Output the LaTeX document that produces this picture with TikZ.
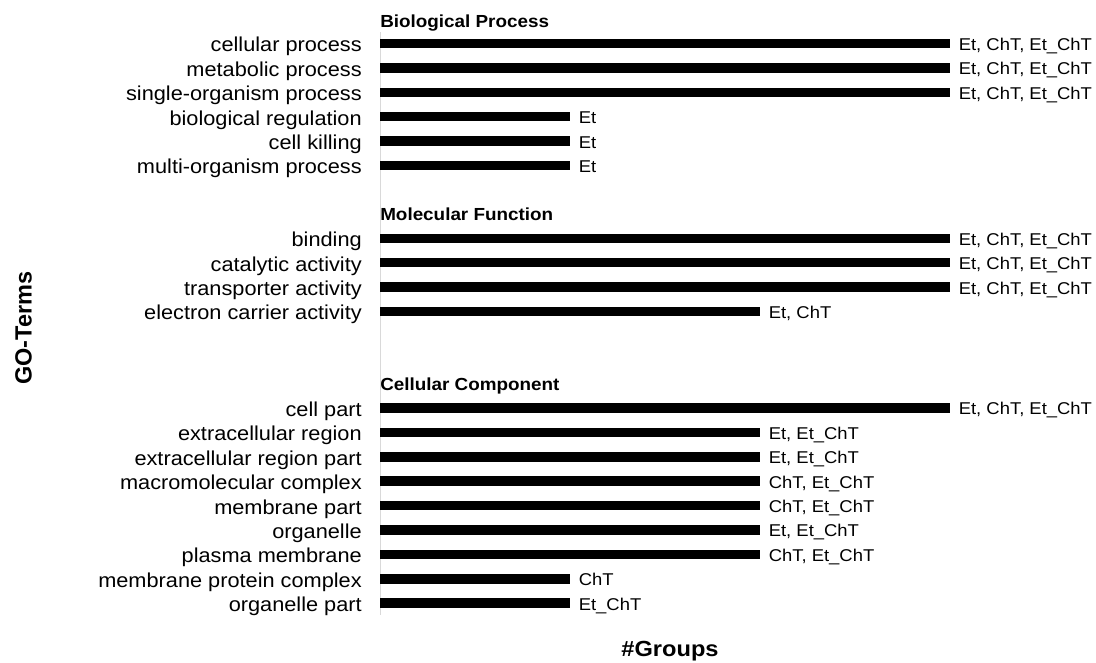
\documentclass[tikz,border=0pt]{standalone}
\usepackage{fontspec}
\setmainfont{Liberation Sans}
\newfontfamily\termfont{Liberation Sans}[FakeStretch=1.08]
\usetikzlibrary{positioning}
\definecolor{axisgray}{HTML}{D9D9D9}
\tikzset{
  bar/.style={
      rectangle, fill=black, inner sep=0pt,
      minimum height=7.1pt, anchor=west,
  },
  term/.style={
    font=\termfont\fontsize{15.1}{17}\selectfont, inner sep=0pt, anchor=base east,
  },
  hits/.style={
    font=\termfont\fontsize{12.8}{14}\selectfont, inner sep=0pt, anchor=base west,
  },
  head/.style={
    font=\termfont\bfseries\fontsize{13.1}{15}\selectfont, inner sep=0pt, anchor=base west,
  }
}

\begin{document}
\begin{tikzpicture}[x=0.75pt,y=-0.75pt]
\useasboundingbox (0,0) rectangle (1096,662);
\coordinate (axistop) at (380,32);
\coordinate (axisbot) at (380,615);
\draw [axisgray, line width=0.75pt] (axistop) -- (axisbot);

\node [head] (bp) at (380,27.2) {Biological Process};
\node [head] (mf) at (380,220.7) {Molecular Function};
\node [head] (cc) at (380,390.2) {Cellular Component};

\foreach \y/\term/\n/\hits [count=\i] in {
  43.5/cellular process/3/{Et, ChT, Et\_ChT},
  67.9/metabolic process/3/{Et, ChT, Et\_ChT},
  92.3/single-organism process/3/{Et, ChT, Et\_ChT},
  116.7/biological regulation/1/Et,
  141.1/cell killing/1/Et,
  165.5/multi-organism process/1/Et,
  238.3/binding/3/{Et, ChT, Et\_ChT},
  262.7/catalytic activity/3/{Et, ChT, Et\_ChT},
  287.1/transporter activity/3/{Et, ChT, Et\_ChT},
  311.5/electron carrier activity/2/{Et, ChT},
  408/cell part/3/{Et, ChT, Et\_ChT},
  432.4/extracellular region/2/{Et, Et\_ChT},
  456.8/extracellular region part/2/{Et, Et\_ChT},
  481.2/macromolecular complex/2/{ChT, Et\_ChT},
  505.6/membrane part/2/{ChT, Et\_ChT},
  530/organelle/2/{Et, Et\_ChT},
  554.4/plasma membrane/2/{ChT, Et\_ChT},
  578.8/membrane protein complex/1/ChT,
  603.2/organelle part/1/Et\_ChT}
{
  \node [bar, minimum width=\n*142.5pt] (bar\i) at (380,\y) {};
  \node [term] (term\i) at ([xshift=-13.5pt,yshift=-6.3pt]bar\i.west) {\term};
  \node [hits] (hits\i) at ([xshift=6pt,yshift=-5.2pt]bar\i.east) {\hits};
}

\node [font=\termfont\bfseries\fontsize{16.4}{18}\selectfont, anchor=base] (xlabel) at (670,656) {\#Groups};
\node [font=\bfseries\fontsize{17.6}{19}\selectfont, rotate=90] (ylabel) at (23.5,328) {GO-Terms};
\end{tikzpicture}
\end{document}
